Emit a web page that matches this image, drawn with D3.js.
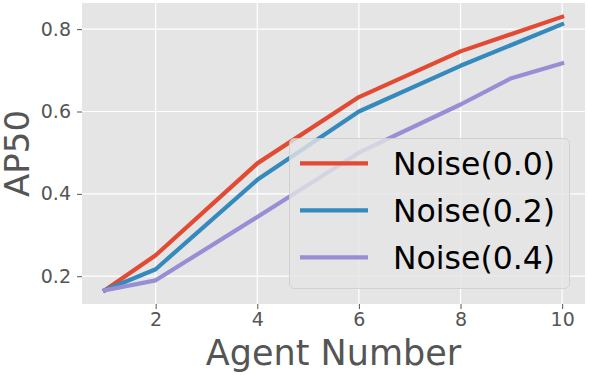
<!DOCTYPE html>
<html><head><meta charset="utf-8">
<script src="https://cdn.jsdelivr.net/npm/d3@7"></script>
<style>body{margin:0;background:#fff}svg{display:block}text{font-family:"DejaVu Sans",sans-serif}</style>
</head><body>
<svg id="c" width="589" height="375"></svg>
<script>
const seriesNames = ["Noise(0.0)", "Noise(0.2)", "Noise(0.4)"];
const seriesColors = ["#E24A33", "#348ABD", "#988ED5"];
const agentsA = [1, 2, 4, 6, 8, 10];
const noise00 = [0.166, 0.251, 0.474, 0.635, 0.746, 0.830];
const noise02 = [0.166, 0.217, 0.434, 0.600, 0.711, 0.812];
const agentsB = [1, 2, 4, 6, 8, 9, 10];
const noise04 = [0.166, 0.190, 0.344, 0.500, 0.617, 0.681, 0.717];
const xTicks = [2, 4, 6, 8, 10];
const yTicks = [0.2, 0.4, 0.6, 0.8];

const series = [
  {name: seriesNames[0], color: seriesColors[0], xs: agentsA, ys: noise00},
  {name: seriesNames[1], color: seriesColors[1], xs: agentsA, ys: noise02},
  {name: seriesNames[2], color: seriesColors[2], xs: agentsB, ys: noise04}
];

const L = 82, R = 585, T = 3, B = 304;
const svg = d3.select("#c");
const x = d3.scaleLinear().domain([0.55, 10.45]).range([L, R]);
const y = d3.scaleLinear().domain([0.1325, 0.8635]).range([B, T]);

svg.append("rect").attr("x", L).attr("y", T).attr("width", R - L).attr("height", B - T).attr("fill", "#E5E5E5");

// grid
svg.append("g").selectAll("line").data(xTicks).join("line")
  .attr("x1", d => x(d)).attr("x2", d => x(d)).attr("y1", T).attr("y2", B)
  .attr("stroke", "#fff").attr("stroke-width", 1.2);
svg.append("g").selectAll("line").data(yTicks).join("line")
  .attr("y1", d => y(d)).attr("y2", d => y(d)).attr("x1", L).attr("x2", R)
  .attr("stroke", "#fff").attr("stroke-width", 1.2);

// axes
const xAxis = d3.axisBottom(x).tickValues(xTicks).tickFormat(d3.format("d")).tickSize(5).tickPadding(4);
const gx = svg.append("g").attr("transform", `translate(0,${B})`).call(xAxis);
gx.select(".domain").remove();
gx.selectAll("line").attr("stroke", "#555");
gx.selectAll("text").attr("fill", "#555").style("font-size", "19px").attr("font-family", "DejaVu Sans");

const yAxis = d3.axisLeft(y).tickValues(yTicks).tickFormat(d3.format(".1f")).tickSize(5).tickPadding(6);
const gy = svg.append("g").attr("transform", `translate(${L},0)`).call(yAxis);
gy.select(".domain").remove();
gy.selectAll("line").attr("stroke", "#555");
gy.selectAll("text").attr("fill", "#555").style("font-size", "19px").attr("font-family", "DejaVu Sans");

// lines
const line = d3.line().x(d => x(d[0])).y(d => y(d[1]));
series.forEach(s => {
  svg.append("path").datum(s.xs.map((v, i) => [v, s.ys[i]]))
    .attr("d", line).attr("fill", "none").attr("stroke", s.color)
    .attr("stroke-width", 4.2).attr("stroke-linejoin", "round").attr("stroke-linecap", "square");
});

// axis labels
svg.append("text").attr("x", (L + R) / 2).attr("y", 365).attr("text-anchor", "middle")
  .attr("fill", "#555").style("font-size", "35px").text("Agent Number");
svg.append("text").attr("transform", `translate(29,${(T + B) / 2}) rotate(-90)`).attr("text-anchor", "middle")
  .attr("fill", "#555").style("font-size", "34px").text("AP50");

// legend
const lg = svg.append("g");
lg.append("rect").attr("x", 289.5).attr("y", 138.5).attr("width", 280).attr("height", 150)
  .attr("rx", 5).attr("fill", "#E5E5E5").attr("fill-opacity", 0.8)
  .attr("stroke", "#CCCCCC").attr("stroke-opacity", 0.8).attr("stroke-width", 1);
const rowY = [163.3, 210.3, 257.3];
series.forEach((s, i) => {
  lg.append("line").attr("x1", 300).attr("x2", 368).attr("y1", rowY[i]).attr("y2", rowY[i])
    .attr("stroke", s.color).attr("stroke-width", 4.2);
  lg.append("text").attr("x", 393).attr("y", rowY[i]).attr("dy", "0.36em")
    .attr("fill", "#000").style("font-size", "31.5px").text(s.name);
});
</script>
</body></html>
